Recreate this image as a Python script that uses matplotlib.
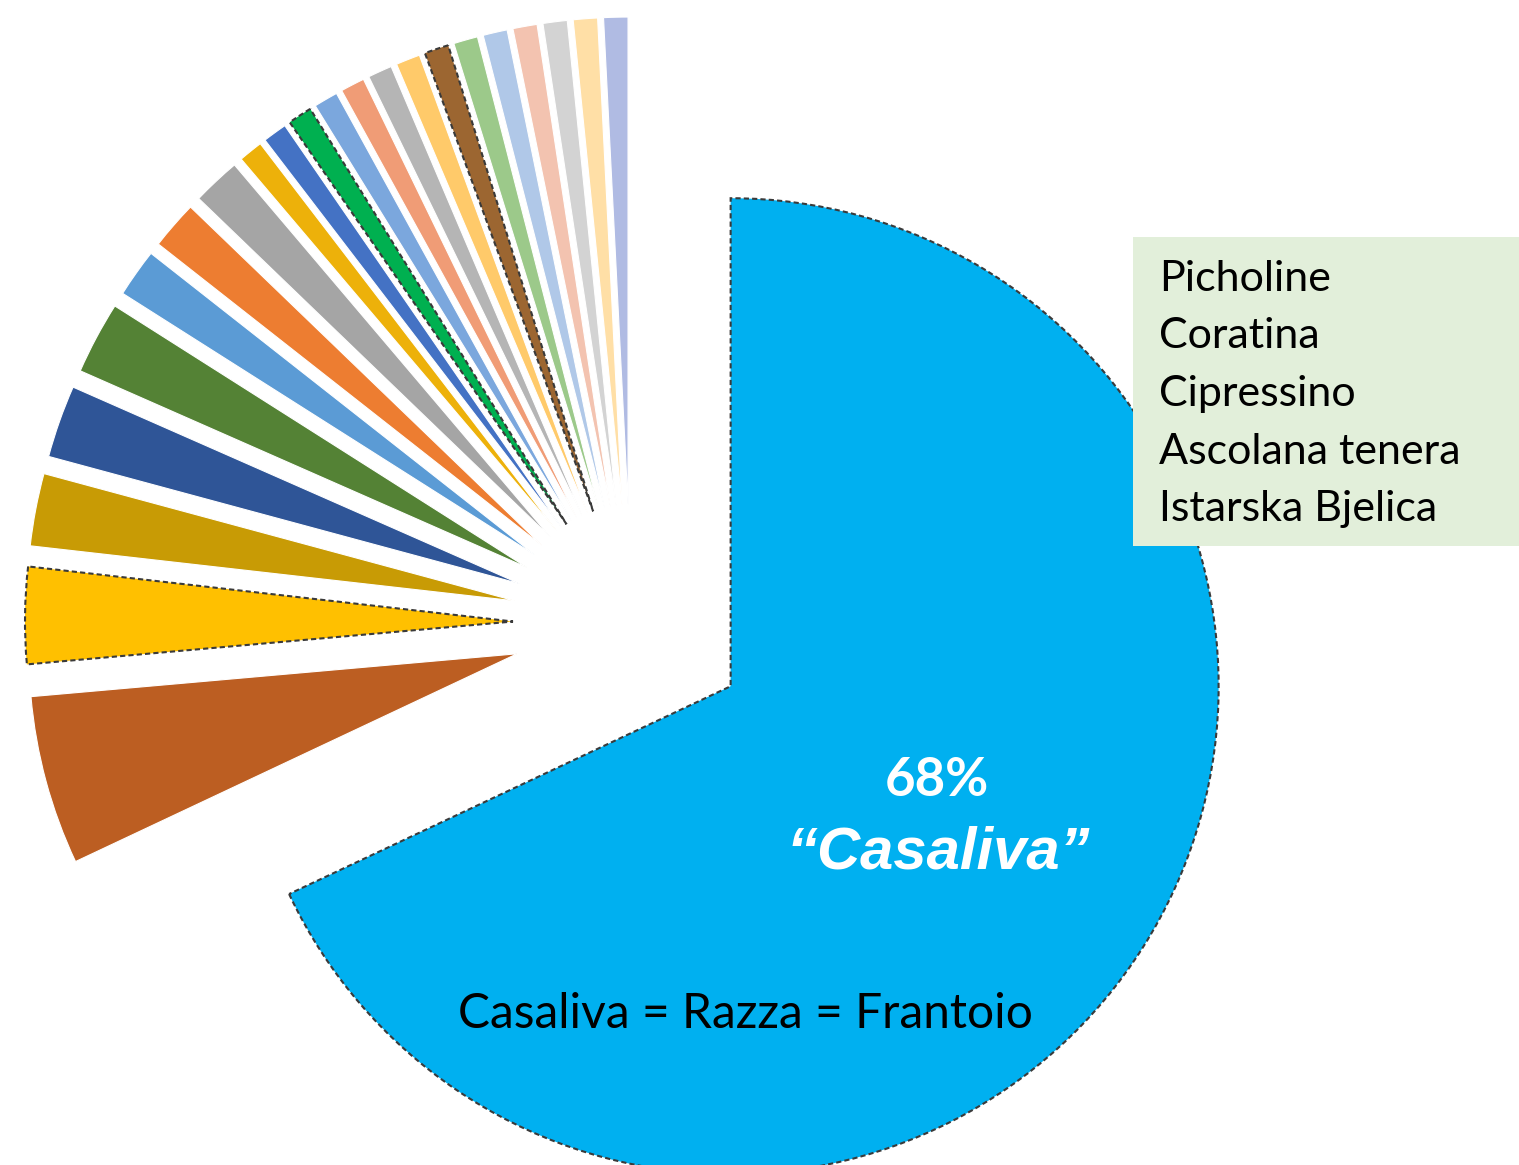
import matplotlib
matplotlib.use("Agg")
import matplotlib.pyplot as plt
from matplotlib.patches import Rectangle

# Cultivar counts (Casaliva first, then the remaining genotypes clockwise)
cultivars = ["Casaliva"] + [f"G{i}" for i in range(1, 23)]
counts = [85, 7, 4, 3, 3, 3, 2, 2, 2,
          1, 1, 1, 1, 1, 1, 1, 1, 1, 1, 1, 1, 1, 1]
colors = ["#00B0F0", "#BC5E22", "#FFC000", "#C89B05", "#2F5597", "#548235",
          "#5B9BD5", "#ED7D31", "#A5A5A5", "#EDB10A", "#4472C4", "#00B050",
          "#7BA7DD", "#F09C76", "#B5B5B5", "#FFCA6A", "#9C6631", "#9CC98A",
          "#B0C8E8", "#F3C3B0", "#D3D3D3", "#FFDFA6", "#B0BBE3"]
outlined = {"Casaliva", "G2", "G11", "G16"}

synonyms = ["Picholine", "Coratina", "Cipressino", "Ascolana tenera", "Istarska Bjelica"]
main_pct = "68%"
main_name = "\u2018\u2018Casaliva\u201d"
identity = "Casaliva = Razza = Frantoio"

W, H = 1519, 1165
fig = plt.figure(figsize=(W / 100, H / 100), dpi=100)
ax = fig.add_axes([0, 0, 1, 1])

wedges, _ = ax.pie(counts, colors=colors, startangle=90, counterclock=False,
                   radius=488, center=(631, H - 623),
                   explode=[118] * len(counts))
for w, name in zip(wedges, cultivars):
    if name in outlined:
        w.set_edgecolor("#3a3a3a")
        w.set_linewidth(1.5)
        w.set_linestyle((0, (2.5, 1.5)))
    else:
        w.set_edgecolor("white")
        w.set_linewidth(0.8)

ax.set_xlim(0, W)
ax.set_ylim(0, H)
ax.set_aspect("auto")
ax.axis("off")

# Synonym box on the right
ax.add_patch(Rectangle((1133, H - 546), 400, 309, facecolor="#E2EFDA",
                       edgecolor="none", zorder=5))
for i, s in enumerate(synonyms):
    ax.text(1159, H - (279 + i * 57.5), s, fontsize=31, family="Lato",
            color="black", ha="left", va="center", zorder=6)

ax.text(937, H - 780, main_pct, fontsize=38, family="Lato", weight="bold",
        color="white", ha="center", va="center", zorder=6)
ax.text(938, H - 853, main_name, fontsize=43, family="Liberation Sans",
        weight="bold", style="italic", color="white", ha="center",
        va="center", zorder=6)
ax.text(745, H - 1014, identity, fontsize=34.5, family="Lato", color="black",
        ha="center", va="center", zorder=6)

fig.savefig("out.png", dpi=100, facecolor="white")
